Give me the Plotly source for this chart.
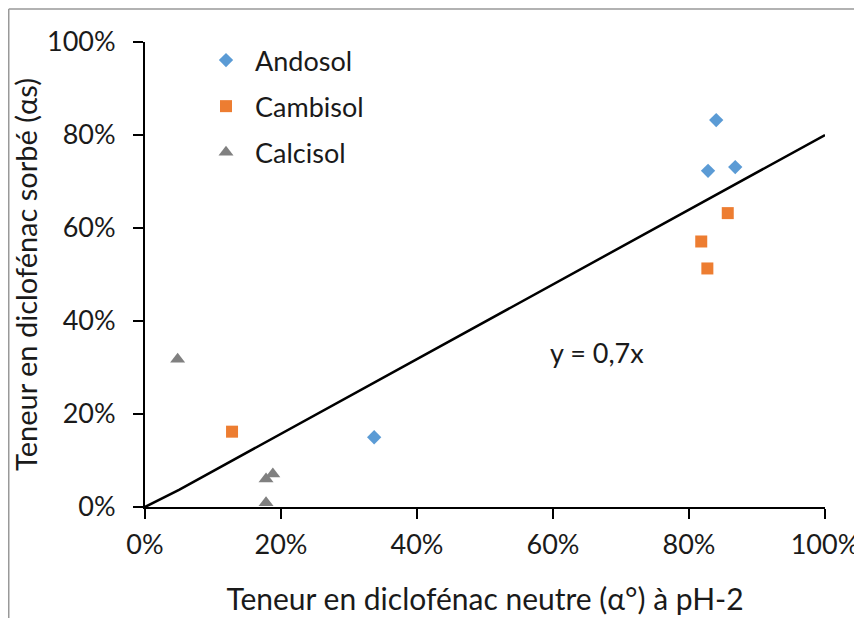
import plotly.graph_objects as go

# Data
andosol_x = [0.337, 0.840, 0.828, 0.868]
andosol_y = [0.150, 0.832, 0.723, 0.731]
cambisol_x = [0.128, 0.857, 0.818, 0.827]
cambisol_y = [0.162, 0.632, 0.571, 0.513]
calcisol_x = [0.048, 0.188, 0.178, 0.178]
calcisol_y = [0.318, 0.071, 0.060, 0.009]
line_x = [0.0, 0.05, 1.0]
line_y = [0.0, 0.037, 0.80]
x_ticks = [0, 0.2, 0.4, 0.6, 0.8, 1.0]
y_ticks = [0, 0.2, 0.4, 0.6, 0.8, 1.0]

FONT = "Lato"
# page body has an 8px margin, so the figure is offset by 8px
W, H = 854, 610
L, T = 137, 34
pw, ph = 680, 465
R, B = W - L - pw, H - T - ph

fig = go.Figure()
fig.add_trace(go.Scatter(x=line_x, y=line_y, mode="lines",
                         line=dict(color="black", width=2.5), showlegend=False, hoverinfo="skip"))
fig.add_trace(go.Scatter(x=andosol_x, y=andosol_y, mode="markers", name="Andosol", legendgroup="a",
                         marker=dict(symbol="diamond", size=11, color="#5B9BD5")))
fig.add_trace(go.Scatter(x=cambisol_x, y=cambisol_y, mode="markers", name="Cambisol", legendgroup="b",
                         marker=dict(symbol="square", size=12, color="#ED7D31")))
fig.add_trace(go.Scatter(x=calcisol_x, y=calcisol_y, mode="markers", name="Calcisol", legendgroup="c",
                         marker=dict(symbol="triangle-up", size=13, color="#808080")))

axis_common = dict(range=[0, 1], showgrid=False, zeroline=False, showline=True, linecolor="black",
                   linewidth=2, ticks="outside", ticklen=10, tickwidth=2, tickcolor="black",
                   automargin=False,
                   tickformat=".0%", tickfont=dict(family=FONT, size=27, color="#1a1a1a"))

fig.update_layout(
    width=W, height=H,
    margin=dict(l=L, r=R, t=T, b=B),
    paper_bgcolor="white", plot_bgcolor="white",
    font=dict(family=FONT, color="#1a1a1a"),
    xaxis=dict(**axis_common, tickvals=x_ticks, ticklabelstandoff=3,
               title=dict(text="Teneur en diclofénac neutre (α°) à pH-2", font=dict(family=FONT, size=30),
                          standoff=30)),
    yaxis=dict(**axis_common, tickvals=y_ticks, ticklabelstandoff=12,
               title=dict(text="Teneur en diclofénac sorbé (αs)", font=dict(family=FONT, size=29),
                          standoff=5)),
    legend=dict(x=(189 - L) / pw, y=(T + ph - 28) / ph, xanchor="left", yanchor="top",
                font=dict(family=FONT, size=27, color="#1a1a1a"), bgcolor="rgba(0,0,0,0)",
                tracegroupgap=8, itemwidth=48),
    annotations=[dict(x=0.665, y=0.333, xref="x", yref="y", text="y = 0,7x", showarrow=False,
                      font=dict(family=FONT, size=27, color="#1a1a1a"))],
    shapes=[
        dict(type="line", xref="paper", yref="paper", x0=(0.75 - L) / pw, x1=(W + 5 - L) / pw,
             y0=(T + ph - 1) / ph, y1=(T + ph - 1) / ph, line=dict(color="#999", width=1.5)),
        dict(type="line", xref="paper", yref="paper", x0=(0.75 - L) / pw, x1=(0.75 - L) / pw,
             y0=(T + ph - 1) / ph, y1=(T + ph - H - 5) / ph, line=dict(color="#999", width=1.5)),
    ],
)

fig.write_html("out.html")
